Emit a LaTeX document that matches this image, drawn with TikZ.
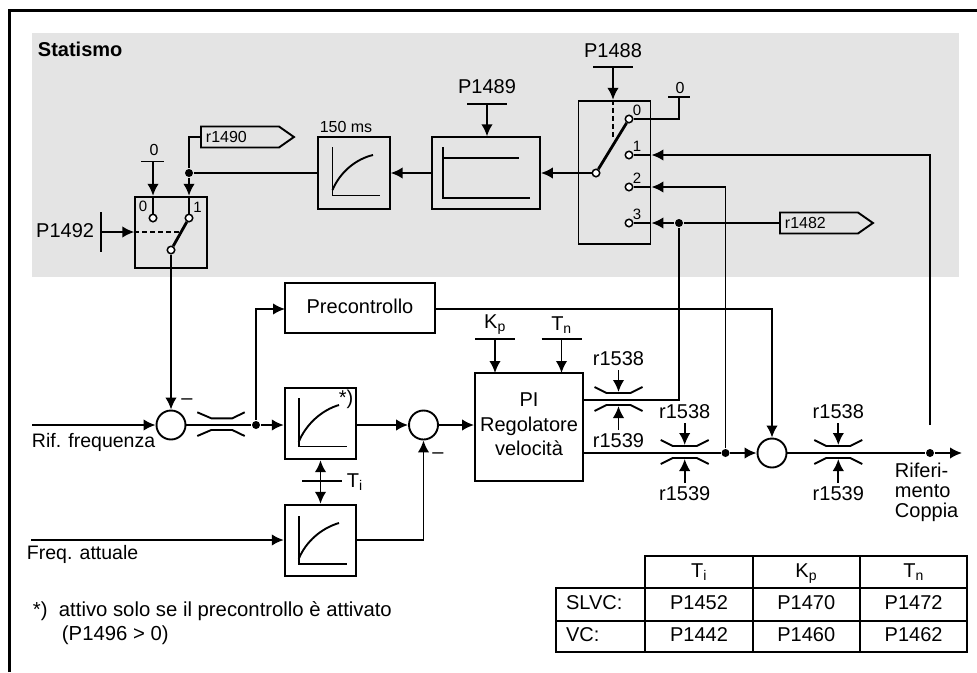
\documentclass[tikz,border=0pt]{standalone}
\usepackage{fontspec}
\setmainfont{Liberation Sans}
\usetikzlibrary{arrows.meta,shapes.symbols,calc}
\definecolor{cpanel}{RGB}{228,228,228}
\tikzset{
  blockdiag/.style={x=1pt,y=-1pt,line width=1.9pt,font=\fontsize{20}{20}\selectfont},
  sig/.style={-{Latex[length=12pt,width=11.5pt]}},
  dblsig/.style={{Latex[length=12pt,width=11.5pt]}-{Latex[length=12pt,width=11.5pt]}},
  block/.style={draw,minimum width=71.5pt,minimum height=71.5pt,inner sep=0pt},
  sumnode/.style={draw,circle,minimum size=29pt,inner sep=0pt},
  term/.style={draw,circle,fill=white,minimum size=7.5pt,inner sep=0pt,line width=1.5pt},
  dotnode/.style={fill,circle,minimum size=8pt,inner sep=0pt},
  txt/.style={inner sep=0pt},
  small16/.style={inner sep=0pt,font=\fontsize{16}{18}\selectfont},
  small15/.style={inner sep=0pt,font=\fontsize{15}{16}\selectfont},
  tag/.style={draw,signal,signal to=east,signal pointer angle=70,inner sep=0pt,
    minimum height=21pt,minimum width=93pt,text width=77pt,align=left,font=\fontsize{16}{18}\selectfont},
  cell/.style={draw,inner sep=0pt,minimum width=107.3pt,text height=14pt,text depth=3pt},
}
\begin{document}
\begin{tikzpicture}[blockdiag]
  \useasboundingbox (0,0) rectangle (977,672);
  \draw[line width=3pt] (9,672) -- (9,10) -- (977,10);
  \fill[cpanel] (32,33) rectangle (959,277);
  \node[txt,anchor=west,font=\bfseries\fontsize{20}{22}\selectfont] (title) at (37,49.5) {Statismo};

  % left switch
  \node[block] (swl) at (171,232.5) {};
  \node[term] (tl0) at (153,218) {};
  \node[term] (tl1) at (189,218) {};
  \node[term] (tlp) at (171,250) {};
  \node[small15] (nl0) at (143,206) {0};
  \node[small15] (nl1) at (197.5,207) {1};
  \node[small16] (zl) at (154,150) {0};
  \coordinate (zlb) at (153,161.5);
  \node[dotnode] (jl) at (189,173) {};
  \node[txt,anchor=east] (p1492) at (95,231) {P1492};
  \coordinate (p92b) at (101,232);
  \draw (141,161.5) -- (164,161.5);
  \draw[sig] (zlb) -- (zlb |- swl.north);
  \draw (zlb |- swl.north) -- (tl0);
  \draw[sig] (jl) -- (jl |- swl.north);
  \draw (jl |- swl.north) -- (tl1);
  \draw (101,212) -- (101,252);
  \draw[sig] (p92b) -- (p92b -| swl.west);
  \draw[dashed,dash pattern=on 5pt off 3pt] (p92b -| swl.west) -- (181,232);
  \draw[line width=2.8pt] (tlp) -- (tl1);

  % tag and delay
  \node[tag,anchor=west] (r1490) at (200,137) {\hspace{4.5pt}r1490};
  \draw (jl) |- (r1490.west);
  \node[block] (pt150) at (354,173) {};
  \node[small16] (lab150) at (346,127) {150 ms};
  \draw (jl) -- (pt150.west);
  \draw (332.5,147) -- (332.5,195.5) -- (380,195.5);
  \draw (332.5,190) .. controls (340,172) and (356,159) .. (373,155);

  % band block
  \node[block,minimum width=108pt] (band) at (486,173) {};
  \draw[sig] (band.west) -- (pt150.east);
  \draw (443,147) -- (443,198) -- (530,198);
  \draw (443,158) -- (519,158);
  \node[txt] (p1489) at (487,87) {P1489};
  \coordinate (p89b) at (487,104);
  \draw (467,104) -- (507,104);
  \draw[sig] (p89b) -- (band.north -| p89b);

  % right switch
  \node[block,minimum width=72pt,minimum height=143.5pt] (swr) at (614.5,172.5) {};
  \node[term] (tp) at (596,173) {};
  \node[term] (t0) at (629,119) {};
  \node[term] (t1) at (629,155) {};
  \node[term] (t2) at (629,187) {};
  \node[term] (t3) at (629,223) {};
  \foreach \k/\y in {0/110,1/146,2/178,3/214}
    \node[small15] (nr\k) at (637,\y) {\k};
  \draw (tp) -- (swr.west |- tp);
  \draw[sig] (swr.west |- tp) -- (band.east);
  \draw[line width=2.8pt] (tp) -- (t0);
  \node[txt] (p1488) at (613,51) {P1488};
  \coordinate (p88b) at (613,67);
  \draw (593,67) -- (633,67);
  \draw[sig] (p88b) -- (swr.north -| p88b);
  \draw[dashed,dash pattern=on 5pt off 3pt] (swr.north -| p88b) -- (613,137);
  \node[small16] (zr) at (680,88) {0};
  \coordinate (zrb) at (679,97);
  \draw (668,97) -- (690,97);
  \draw (t0) -| (zrb);
  \node[tag,anchor=west] (r1482) at (779,223) {\hspace{4.5pt}r1482};
  \node[dotnode] (jr) at (679,223) {};
  \draw (r1482.west) -- (jr);
  \draw[sig] (jr) -- (swr.east |- jr);
  \draw (swr.east |- jr) -- (t3);

  % input section
  \node[sumnode] (sa) at (171,425) {};
  \node[txt] (ma) at (187,402) {--};
  \coordinate (rif) at (32,425);
  \node[txt,anchor=west,font=\fontsize{19.5}{20}\selectfont] (lrif) at (31,442) {Rif. frequenza};
  \draw[sig] (rif) -- (sa.west);
  \draw[sig] (tlp) -- (sa.north);
  \node[dotnode] (ja) at (256,425) {};
  \draw (sa.east) -- (ja);
  \draw (197.3,412.3) -- (211.3,418.3) -- (232.3,418.3) -- (244.7,412.3);
  \draw (197.3,436) -- (211.3,430) -- (232.3,430) -- (244.7,436);
  \node[draw,minimum width=150pt,minimum height=50pt,inner sep=0pt] (prec) at (360,308) {};
  \node[txt] (lprec) at (360,306) {Precontrollo};
  \coordinate (pin) at (285,309);
  \draw[sig] (ja) |- (pin);

  % smoothing blocks
  \node[block] (pta) at (320.5,423.5) {};
  \node[block] (ptb) at (320.5,540.5) {};
  \draw[sig] (ja) -- (ja -| pta.west);
  \draw (298.7,398) -- (298.7,446.5) -- (346.7,446.5);
  \draw (298.7,442) .. controls (306,424) and (322,410) .. (339,405);
  \draw (298.7,516) -- (298.7,563.7) -- (346.7,563.7);
  \draw (298.7,559) .. controls (306,541) and (322,528) .. (339,523);
  \node[txt] (star) at (346,399) {*)};
  \node[txt,anchor=west] (lti) at (346,482) {T\textsubscript{i}};
  \draw[dblsig] (pta.south) -- (ptb.north);
  \draw (302,481) -- (342,481);
  \coordinate (fa) at (31,540);
  \node[txt,anchor=west,font=\fontsize{19.5}{20}\selectfont] (lfa) at (26,554) {Freq. attuale};
  \draw[sig] (fa) -- (fa -| ptb.west);

  \node[sumnode] (sb) at (423.5,425) {};
  \node[txt] (mb) at (438,456) {--};
  \draw[sig] (pta.east |- sb) -- (sb.west);
  \draw[sig] (ptb.east |- fa) -| (sb.south);

  % controller
  \node[draw,minimum width=108pt,minimum height=107.5pt,inner sep=0pt] (pi) at (529,427) {};
  \node[txt,align=center,font=\fontsize{20}{24.5}\selectfont] (lpi) at (529,424.5) {PI\\Regolatore\\velocità};
  \draw[sig] (sb.east) -- (sb -| pi.west);
  \foreach \nm/\lab/\xb in {kp/K\textsubscript{p}/495,tn/T\textsubscript{n}/561.5} {
    \node[txt] (\nm) at (\xb,325) {\lab};
    \draw (\xb-20,339) -- (\xb+20,339);
    \draw[sig] (\xb,339) -- (\xb,373);
  }

  % limiters
  \foreach \i/\cx/\cy in {a/618.5/400,b/684.7/453,c/838.3/453} {
    \draw (\cx-24,\cy-13) -- (\cx-12,\cy-7) -- (\cx+12,\cy-7) -- (\cx+24,\cy-13);
    \draw (\cx-24,\cy+11) -- (\cx-12,\cy+5) -- (\cx+12,\cy+5) -- (\cx+24,\cy+11);
    \node[txt] (up\i) at (\cx,\cy-41) {r1538};
    \node[txt] (lo\i) at (\cx,\cy+41) {r1539};
    \draw[sig] (\cx,\cy-30) -- (\cx,\cy-8);
    \draw[sig] (\cx,\cy+30) -- (\cx,\cy+6);
  }

  % output section
  \node[sumnode] (sc) at (772,453) {};
  \coordinate (pao) at (583,400);
  \coordinate (pbo) at (583,453);
  \node[dotnode] (jb) at (725.5,453) {};
  \node[dotnode] (jc) at (930,453) {};
  \coordinate (tqe) at (962,453);
  \coordinate (gap) at (930,425);
  \draw (pao) -| (jr);
  \draw (pbo) -- (jb);
  \draw[sig] (jb) -- (sc.west);
  \draw[sig] (jb) |- (swr.east |- t2);
  \draw (swr.east |- t2) -- (t2);
  \draw[sig] (gap) |- (swr.east |- t1);
  \draw (swr.east |- t1) -- (t1);
  \draw[sig] (prec.east |- pin) -| (sc.north);
  \draw (sc.east) -- (jc);
  \draw[sig] (jc) -- (tqe);
  \node[txt,anchor=north west,align=left] (ltq) at (894,462) {Riferi-\\mento\\Coppia};

  % footnote
  \node[txt,anchor=west,font=\fontsize{20.3}{20}\selectfont] (fnm) at (32,611) {*)};
  \node[txt,anchor=west,font=\fontsize{20.3}{20}\selectfont] (fna) at (58,611) {attivo solo se il precontrollo è attivato};
  \node[txt,anchor=west,font=\fontsize{20.3}{20}\selectfont] (fnb) at (61,635) {(P1496 > 0)};

  % table
  \foreach \nm/\cx/\ta/\tb/\tc in {ti/699/T\textsubscript{i}/P1452/P1442,kp/806.3/K\textsubscript{p}/P1470/P1460,tn/913.6/T\textsubscript{n}/P1472/P1462} {
    \node[cell,minimum height=32pt] (h\nm) at (\cx,571.8) {\ta};
    \node[cell,minimum height=33pt] (s\nm) at (\cx,604.2) {\tb};
    \node[cell,minimum height=31.5pt] (v\nm) at (\cx,636.4) {\tc};
  }
  \node[cell,minimum width=89pt,minimum height=33pt,align=left,text width=69pt] (slvc) at (600.6,604.2) {SLVC:};
  \node[cell,minimum width=89pt,minimum height=31.5pt,align=left,text width=69pt] (vc) at (600.6,636.4) {VC:};
\end{tikzpicture}
\end{document}
